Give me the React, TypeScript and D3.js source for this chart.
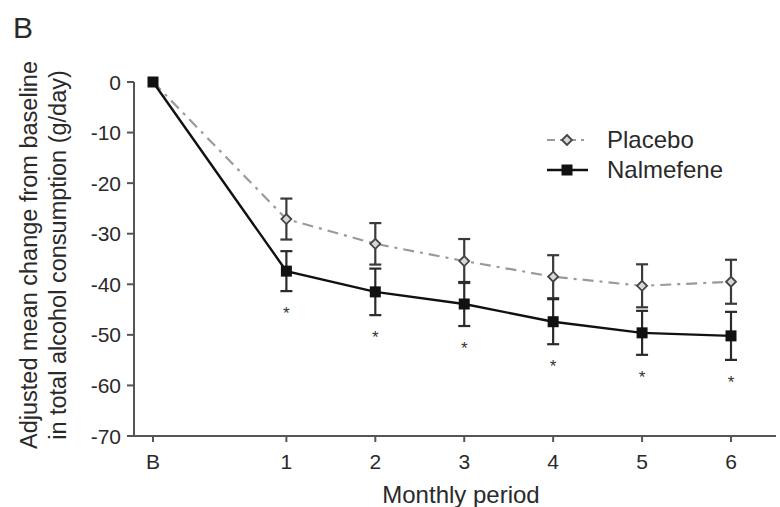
import * as d3 from "d3";

// monthly periods, B = baseline
const periods = ["B", "1", "2", "3", "4", "5", "6"];
const periodPos = [0, 1.5, 2.5, 3.5, 4.5, 5.5, 6.5];

const placeboMean = [0, -27.1, -32.0, -35.4, -38.5, -40.3, -39.5];
const placeboErr = [0, 4.05, 4.1, 4.35, 4.25, 4.25, 4.35];
const nalmefeneMean = [0, -37.4, -41.5, -43.9, -47.4, -49.6, -50.2];
const nalmefeneErr = [0, 3.95, 4.6, 4.35, 4.45, 4.35, 4.75];
const significant = [false, true, true, true, true, true, true];

const yTicks = [0, -10, -20, -30, -40, -50, -60, -70];

const font = "'Liberation Sans', Arial, sans-serif";
const textColor = "#2a2a2a";

const x = d3.scaleLinear().domain([0, 6.5]).range([153, 731]);
const y = d3.scaleLinear().domain([-70, 0]).range([436, 82]);

const axisLeft = 134;
const axisRight = 776;

const App = () => {
  const pts = (vals: number[]) => vals.map((v, i) => [x(periodPos[i]), y(v)] as [number, number]);
  const lineGen = d3.line();

  const errBar = (m: number, e: number, i: number, color: string) => {
    if (e === 0) return null;
    const cx = x(periodPos[i]);
    const top = y(m + e);
    const bot = y(m - e);
    return (
      <g key={i} stroke={color} strokeWidth={2.2}>
        <line x1={cx} x2={cx} y1={top} y2={bot} />
        <line x1={cx - 6} x2={cx + 6} y1={top} y2={top} />
        <line x1={cx - 6} x2={cx + 6} y1={bot} y2={bot} />
      </g>
    );
  };

  const diamond = (cx: number, cy: number, key: any) => (
    <path
      key={key}
      d={`M${cx},${cy - 5}L${cx + 5},${cy}L${cx},${cy + 5}L${cx - 5},${cy}Z`}
      fill="#d8d8d8"
      stroke="#444"
      strokeWidth={1.8}
    />
  );
  const square = (cx: number, cy: number, key: any) => (
    <rect key={key} x={cx - 5.5} y={cy - 5.5} width={11} height={11} fill="#111" />
  );

  return (
    <svg
      width={780}
      height={507}
      style={{ position: "absolute", left: 0, top: 0, background: "#fff" }}
      fontFamily={font}
    >
      <rect width={780} height={507} fill="#fff" />
      <text x={13} y={38} fontSize={30} fill={textColor}>B</text>

      {/* y axis label */}
      <text transform="translate(37,255) rotate(-90)" textAnchor="middle" fontSize={23.5} fill={textColor}>
        Adjusted mean change from baseline
      </text>
      <text transform="translate(66,255) rotate(-90)" textAnchor="middle" fontSize={23.5} fill={textColor}>
        in total alcohol consumption (g/day)
      </text>

      {/* axes */}
      <g stroke="#555" strokeWidth={2}>
        <line x1={axisLeft} x2={axisLeft} y1={y(0)} y2={y(-70)} />
        <line x1={axisLeft} x2={axisRight} y1={y(-70)} y2={y(-70)} />
        {yTicks.map((t) => (
          <line key={t} x1={axisLeft - 7} x2={axisLeft} y1={y(t)} y2={y(t)} />
        ))}
        {periods.map((p, i) => (
          <line key={p} x1={x(periodPos[i])} x2={x(periodPos[i])} y1={y(-70)} y2={y(-70) + 6} />
        ))}
      </g>
      {yTicks.map((t) => (
        <text key={t} x={axisLeft - 13} y={y(t)} dy="0.36em" textAnchor="end" fontSize={21} fill={textColor}>
          {t === 0 ? "0" : `-${Math.abs(t)}`}
        </text>
      ))}
      {periods.map((p, i) => (
        <text key={p} x={x(periodPos[i])} y={469} textAnchor="middle" fontSize={21} fill={textColor}>
          {p}
        </text>
      ))}
      <text x={461} y={503} textAnchor="middle" fontSize={24} fill={textColor}>Monthly period</text>

      {/* lines */}
      <path d={lineGen(pts(placeboMean)) ?? ""} fill="none" stroke="#9a9a9a" strokeWidth={2.2} strokeDasharray="11 6 3 6" />
      <path d={lineGen(pts(nalmefeneMean)) ?? ""} fill="none" stroke="#111" strokeWidth={2.4} />

      {/* error bars */}
      {placeboMean.map((m, i) => errBar(m, placeboErr[i], i, "#3a3a3a"))}
      {nalmefeneMean.map((m, i) => errBar(m, nalmefeneErr[i], i, "#2a2a2a"))}

      {/* markers */}
      {pts(placeboMean).map(([cx, cy], i) => (i === 0 ? null : diamond(cx, cy, i)))}
      {pts(nalmefeneMean).map(([cx, cy], i) => square(cx, cy, i))}

      {/* significance */}
      {nalmefeneMean.map((m, i) =>
        significant[i] ? (
          <text key={i} x={x(periodPos[i])} y={y(m - nalmefeneErr[i]) + 28} textAnchor="middle" fontSize={17} fill="#333">
            *
          </text>
        ) : null
      )}

      {/* legend */}
      <g>
        <line x1={547} x2={588} y1={140} y2={140} stroke="#9a9a9a" strokeWidth={2.2} strokeDasharray="8 5 3 5" />
        {diamond(567, 140, "lp")}
        <text x={607} y={148} fontSize={24} fill={textColor}>Placebo</text>
        <line x1={547} x2={588} y1={170} y2={170} stroke="#111" strokeWidth={2.4} />
        {square(567, 170, "ln")}
        <text x={607} y={178} fontSize={24} fill={textColor}>Nalmefene</text>
      </g>
    </svg>
  );
};

export default App;
